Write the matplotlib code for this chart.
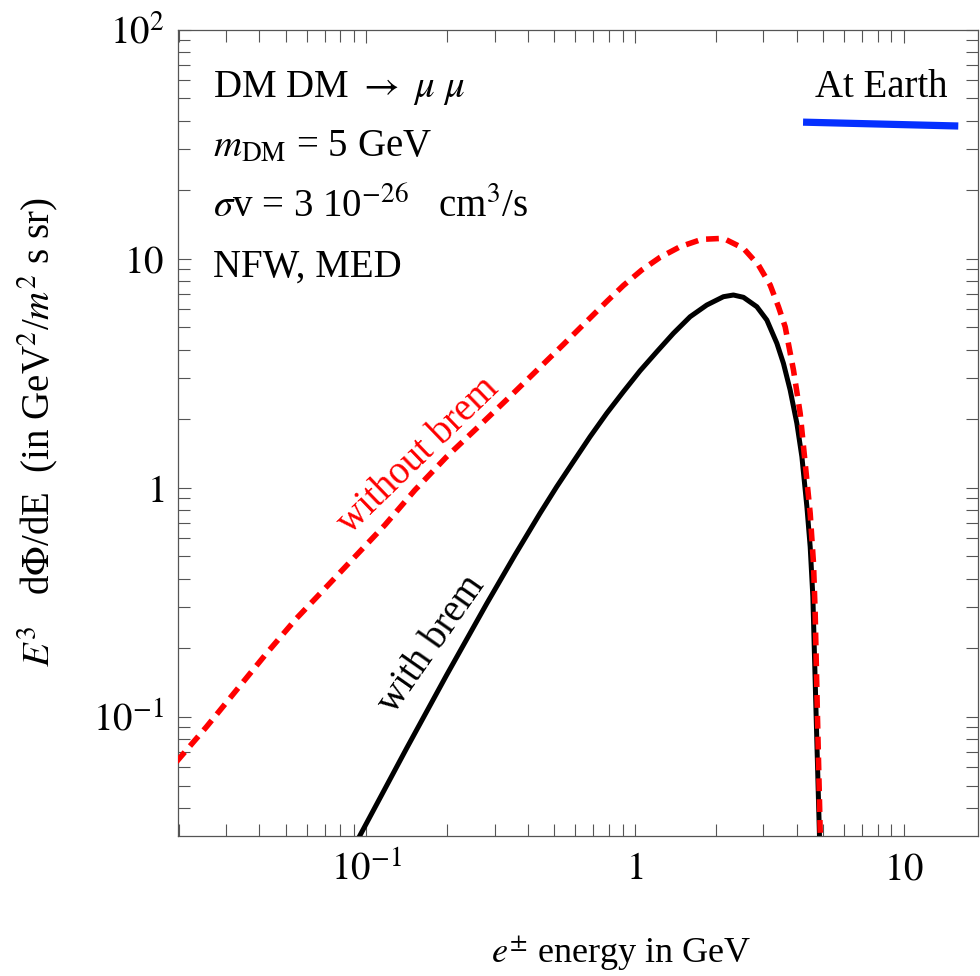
import matplotlib
matplotlib.use("Agg")
import matplotlib.pyplot as plt
from matplotlib.ticker import LogLocator, FixedLocator, FixedFormatter, NullFormatter

# ---------------- data ----------------
# "with brem" (black solid)
with_x = [0.0932, 0.1411, 0.1989, 0.2804, 0.3573, 0.4428, 0.5109, 0.5891, 0.6800, 0.7844,
          0.9046, 1.044, 1.205, 1.389, 1.603, 1.849, 2.132, 2.323, 2.532, 2.840,
          3.094, 3.372, 3.567, 3.778, 4.002, 4.178, 4.361, 4.486, 4.590, 4.722, 4.858]
with_y = [0.02926, 0.0726, 0.1518, 0.3111, 0.5076, 0.7716, 1.008, 1.296, 1.667, 2.109,
          2.620, 3.236, 3.917, 4.714, 5.570, 6.265, 6.812, 6.929, 6.771, 6.159,
          5.388, 4.264, 3.486, 2.666, 1.907, 1.363, 0.8245, 0.5513, 0.3336, 0.0998, 0.0301]

# "without brem" (red dashed)
without_x = [0.01963, 0.02540, 0.03285, 0.04249, 0.05496, 0.07108, 0.09062, 0.1172,
             0.1516, 0.1989, 0.2573, 0.3423, 0.4304, 0.5408, 0.6800, 0.7844,
             0.9046, 1.059, 1.239, 1.471, 1.772, 2.132, 2.532, 2.879, 3.184, 3.418,
             3.620, 3.887, 4.117, 4.297, 4.486, 4.615, 4.682, 4.775, 4.887, 4.91]
without_y = [0.06347, 0.0902, 0.1305, 0.1888, 0.2685, 0.3688, 0.4986, 0.6861,
             0.9752, 1.363, 1.813, 2.497, 3.243, 4.212, 5.498, 6.490,
             7.623, 8.908, 10.12, 11.26, 12.13, 12.25, 11.08, 9.368, 7.660, 6.159,
             5.037, 3.260, 2.109, 1.276, 0.7716, 0.4667, 0.2823, 0.0998, 0.0319, 0.028]

# "At Earth" key line
earth_x = [4.22, 15.96]
earth_y = [39.4, 37.9]

x_ticks = [0.1, 1, 10]
x_tick_labels = [r"$10^{-1}$", r"$1$", r"$10$"]
y_ticks = [0.1, 1, 10, 100]
y_tick_labels = [r"$10^{-1}$", r"$1$", r"$10$", r"$10^{2}$"]

x_range = [0.0199, 18.9]
y_range = [0.0301, 100]

# ---------------- style ----------------
plt.rcParams["font.family"] = ["Liberation Serif", "DejaVu Serif"]
plt.rcParams["mathtext.fontset"] = "stix"

FS = 28
frame_col = "#555555"

fig = plt.figure(figsize=(9.8, 9.76), dpi=100)
ax = fig.add_axes([178 / 980, (976 - 836) / 976, 800 / 980, 806.5 / 976])
ax.set_xscale("log")
ax.set_yscale("log")

ax.plot(with_x, with_y, color="black", lw=3.6, solid_capstyle="butt",
        solid_joinstyle="round", zorder=3)
ax.plot(without_x, without_y, color="#ff0000", lw=4.0, linestyle=(0, (2.3, 1.45)),
        dash_capstyle="butt", zorder=4)
ax.plot(earth_x, earth_y, color="#0530ff", lw=5.2, solid_capstyle="butt", zorder=4)

ax.set_xlim(*x_range)
ax.set_ylim(*y_range)

ax.xaxis.set_major_locator(FixedLocator(x_ticks))
ax.xaxis.set_major_formatter(FixedFormatter(x_tick_labels))
ax.yaxis.set_major_locator(FixedLocator(y_ticks))
ax.yaxis.set_major_formatter(FixedFormatter(y_tick_labels))
for axis in (ax.xaxis, ax.yaxis):
    axis.set_minor_locator(LogLocator(base=10, subs=range(2, 10), numticks=50))
    axis.set_minor_formatter(NullFormatter())

ax.tick_params(which="both", direction="in", top=True, right=True,
               color=frame_col, width=0.8)
ax.tick_params(which="major", length=9)
ax.tick_params(which="minor", length=8.5)
ax.tick_params(axis="x", which="major", labelsize=FS, pad=11)
ax.tick_params(axis="y", which="major", labelsize=FS, pad=10)
for s in ax.spines.values():
    s.set_color(frame_col)
    s.set_linewidth(0.9)

# text annotations
tx = 0.044
ax.text(tx, 0.916, r"DM DM $\rightarrow$ $\mu$ $\mu$", transform=ax.transAxes,
        fontsize=FS, va="baseline", ha="left")
ax.text(tx, 0.842, r"$m_{\rm DM}$ = 5 GeV", transform=ax.transAxes,
        fontsize=FS, va="baseline", ha="left")
ax.text(tx, 0.768, r"$\sigma$v = 3 10$^{-26}$   cm$^3$/s", transform=ax.transAxes,
        fontsize=FS, va="baseline", ha="left")
ax.text(tx, 0.694, "NFW, MED", transform=ax.transAxes,
        fontsize=FS, va="baseline", ha="left")
ax.text(0.796, 0.916, "At Earth", transform=ax.transAxes,
        fontsize=FS, va="baseline", ha="left")

ax.text(0.3175, 0.237, "with brem", transform=ax.transAxes, fontsize=FS,
        rotation=55, ha="center", va="center", rotation_mode="anchor", color="black")
ax.text(0.300, 0.472, "without brem", transform=ax.transAxes, fontsize=FS,
        rotation=44, ha="center", va="center", rotation_mode="anchor", color="#ff0000")

ax.set_xlabel(r"$e^{\pm}$ energy in GeV", fontsize=26)
ax.xaxis.label.set_va("baseline")
ax.xaxis.set_label_coords(0.554, -0.157)
ax.set_ylabel(r"$E^3$   d$\mathrm{\Phi}$/dE  (in GeV$^2$/$m^2$ s sr)", fontsize=FS)
ax.yaxis.set_label_coords(-0.1475, 0.501)

fig.savefig("out.png", dpi=100)
